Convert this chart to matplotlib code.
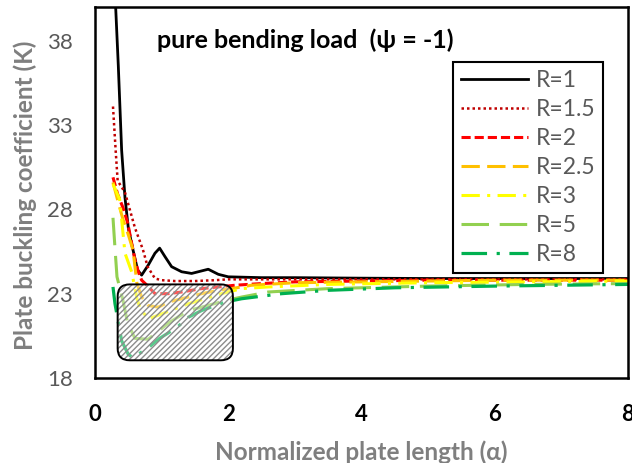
import numpy as np
import matplotlib
matplotlib.use('Agg')
import matplotlib.pyplot as plt
from matplotlib.patches import FancyBboxPatch

plt.rcParams['font.family'] = ['Lato', 'DejaVu Sans']

# curves: normalized plate length (alpha) vs K
a_r1 = [0.28, 0.31, 0.35, 0.40, 0.45, 0.50, 0.57, 0.64, 0.70, 0.80, 0.90, 0.97, 1.05, 1.15,
        1.30, 1.45, 1.60, 1.70, 1.85, 2.0, 2.5, 3.0, 4, 5, 6, 7, 8]
k_r1 = [43.5, 40.0, 36.5, 31.5, 28.7, 26.9, 25.6, 24.4, 24.1, 24.7, 25.4, 25.7, 25.2, 24.6,
        24.3, 24.2, 24.35, 24.45, 24.15, 24.0, 23.95, 23.95, 23.92, 23.9, 23.9, 23.9, 23.9]

a_r15 = [0.27, 0.31, 0.34, 0.45, 0.60, 0.72, 0.79, 0.90, 1.0, 1.2, 1.5, 1.8, 2.0, 2.5, 3, 4, 5, 6, 7, 8]
k_r15 = [34.1, 31.5, 29.7, 29.0, 26.9, 25.6, 24.6, 23.9, 23.8, 23.75, 23.75, 23.8, 23.85, 23.85,
         23.85, 23.85, 23.85, 23.85, 23.85, 23.85]

a_r2 = [0.27, 0.34, 0.42, 0.49, 0.55, 0.60, 0.65, 0.70, 0.78, 0.90, 1.10, 1.30, 1.60, 1.85, 2.1,
        2.5, 3, 4, 5, 6, 7, 8]
k_r2 = [29.9, 28.9, 28.1, 27.2, 26.0, 25.0, 24.3, 23.8, 23.5, 23.0, 23.0, 23.1, 23.3, 23.4, 23.5,
        23.6, 23.7, 23.75, 23.8, 23.8, 23.8, 23.8]

a_r25 = [0.27, 0.35, 0.42, 0.50, 0.57, 0.63, 0.70, 0.80, 0.95, 1.10, 1.40, 1.60, 1.85, 2.05, 2.35,
         3.0, 4, 5, 6, 7, 8]
k_r25 = [29.6, 28.4, 27.4, 26.5, 25.6, 23.6, 22.8, 22.3, 22.2, 22.5, 22.8, 23.0, 23.2, 23.3, 23.5,
         23.65, 23.7, 23.75, 23.8, 23.8, 23.8]

a_r3 = [0.27, 0.37, 0.45, 0.55, 0.63, 0.68, 0.80, 1.00, 1.20, 1.40, 1.65, 1.90, 2.20, 2.6, 3.5,
        5, 6.5, 8]
k_r3 = [29.5, 28.6, 25.4, 24.3, 22.7, 22.1, 21.5, 21.8, 22.1, 22.4, 22.7, 23.0, 23.3, 23.4, 23.55,
        23.65, 23.7, 23.75]

a_r5 = [0.27, 0.30, 0.33, 0.42, 0.49, 0.60, 0.80, 1.10, 1.40, 1.60, 1.97, 2.2, 2.6, 3.5, 5, 6.5, 8]
k_r5 = [27.5, 25.7, 24.0, 22.6, 21.25, 20.35, 20.3, 21.25, 22.0, 22.2, 22.6, 22.8, 23.1, 23.3,
        23.45, 23.55, 23.6]

a_r8 = [0.27, 0.30, 0.40, 0.50, 0.57, 0.80, 0.97, 1.23, 1.40, 1.60, 1.95, 2.2, 2.8, 3.5, 4.5, 6, 8]
k_r8 = [23.4, 22.4, 20.2, 19.4, 19.2, 19.8, 20.35, 21.0, 21.6, 22.0, 22.5, 22.7, 23.0, 23.2,
        23.35, 23.45, 23.55]

labels = ['R=1', 'R=1.5', 'R=2', 'R=2.5', 'R=3', 'R=5', 'R=8']
xticks = [0, 2, 4, 6, 8]
yticks = [18, 23, 28, 33, 38]

# hatched region (alpha range, K range)
box_a = [0.34, 2.07]
box_k = [19.05, 23.55]

series = [(a_r1, k_r1), (a_r15, k_r15), (a_r2, k_r2), (a_r25, k_r25),
          (a_r3, k_r3), (a_r5, k_r5), (a_r8, k_r8)]
colors = ['black', '#c00000', '#ff0000', '#ffc000', '#ffff00', '#92d050', '#00b050']
widths = [2.0, 1.8, 2.2, 2.2, 2.2, 2.2, 2.3]
dashes = [None, (1, 1.2), (3, 1.3), (6, 2.4), (6, 2.4, 1, 2.4), (9, 3.5), (8, 3, 1, 3)]

fig = plt.figure(figsize=(6.32, 4.63), dpi=100)
ax = fig.add_axes([95/632, 85/463, 533/632, 371/463])

for (xs, ys), c, lw, d, lab in zip(series, colors, widths, dashes, labels):
    line, = ax.plot(xs, ys, color=c, lw=lw, label=lab)
    if d is not None:
        line.set_dashes(d)

ax.set_xlim(0, 8)
ax.set_ylim(18, 40)
ax.set_xticks(xticks)
ax.set_yticks(yticks)

# rounded box, corner radius equal in x and y pixels
xpx = 533 / 8.0
ypx = 371 / 22.0
r = 12 / xpx
asp = xpx / ypx
bx = FancyBboxPatch((box_a[0] + r, box_k[0] + r * asp),
                    box_a[1] - box_a[0] - 2 * r, box_k[1] - box_k[0] - 2 * r * asp,
                    boxstyle='round,pad=%f' % r, mutation_aspect=asp,
                    facecolor=(1, 1, 1, 0.35), edgecolor='#8c8c8c', hatch='//////',
                    lw=0, zorder=5)
ax.add_patch(bx)
bx2 = FancyBboxPatch((box_a[0] + r, box_k[0] + r * asp),
                     box_a[1] - box_a[0] - 2 * r, box_k[1] - box_k[0] - 2 * r * asp,
                     boxstyle='round,pad=%f' % r, mutation_aspect=asp,
                     fill=False, edgecolor='black', lw=1.4, zorder=6)
ax.add_patch(bx2)

for s in ax.spines.values():
    s.set_linewidth(1.8)
    s.set_color('black')

ax.tick_params(length=0)
ax.tick_params(axis='x', pad=19, labelsize=16, labelcolor='black')
ax.tick_params(axis='y', pad=16, labelsize=16, labelcolor='#595959')
for t in ax.get_xticklabels():
    t.set_fontweight('bold')

ax.set_xlabel('Normalized plate length (α)', fontsize=17.5, fontweight='bold', color='#7f7f7f')
ax.xaxis.set_label_coords(0.5, -0.168)
ax.set_ylabel('Plate buckling coefficient (K)', fontsize=17.5, fontweight='bold', color='#7f7f7f')
ax.yaxis.set_label_coords(-0.108, 0.493)

ax.text(0.116, 0.911, 'pure bending load  (ψ = -1)', transform=ax.transAxes,
        ha='left', va='center', fontsize=18, fontweight='bold', color='black')

leg = ax.legend(loc='upper left', bbox_to_anchor=(0.672, 0.852), borderaxespad=0,
                fontsize=16.5, labelcolor='#595959', fancybox=False, edgecolor='black',
                framealpha=1, handlelength=2.9, handletextpad=0.35, labelspacing=0.35,
                borderpad=0.35)
leg.get_frame().set_linewidth(1.5)
leg.set_zorder(10)

fig.savefig('out.png', dpi=100)
